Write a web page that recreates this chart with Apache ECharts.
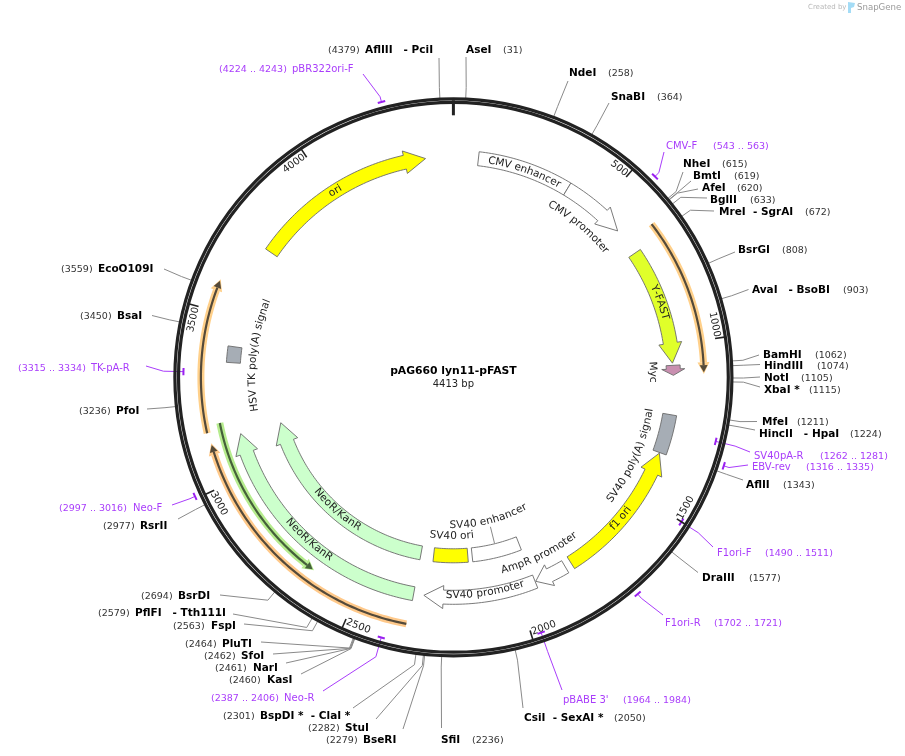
<!DOCTYPE html>
<html>
<head>
<meta charset="utf-8">
<title>pAG660 lyn11-pFAST</title>
<style>
  html, body { margin: 0; padding: 0; background: #fff; }
  #main { width: 905px; height: 756px; }
</style>
<script src="https://cdn.jsdelivr.net/npm/echarts@6/dist/echarts.min.js"></script>
</head>
<body>
<div id="main"></div>
<script>
const plasmidName = "pAG660 lyn11-pFAST";
const plasmidSize = 4413;
const tickValues = [500, 1000, 1500, 2000, 2500, 3000, 3500, 4000];

// features: tail bp, tip bp, bp taken by the arrow head (0 = plain box)
const featureNames = ["CMV enhancer", "CMV promoter", "Y-FAST", "Myc", "SV40 poly(A) signal", "f1 ori", "AmpR promoter", "SV40 promoter", "SV40 enhancer", "SV40 ori", "NeoR/KanR", "NeoR/KanR", "HSV TK poly(A) signal", "ori"];
const featureFrom = [80, 382, 682, 1065, 1223, 1810, 1832, 1939, 1943, 2150, 2334, 2334, 3356, 3731];
const featureTo = [382, 592, 1058, 1097, 1349, 1351, 1937, 2301, 2133, 2284, 3128, 3129, 3407, 4324];
const featureHead = [0, 69, 64, 20, 0, 66, 48, 62, 0, 0, 64, 79, 0, 67];
const featureTrack = [220, 220, 219.5, 220, 219.5, 219.5, 220, 220, 178.5, 178.5, 220, 178.5, 220.5, 220.5];
const featureColors = ["#ffffff", "#ffffff", "#e0ff2a", "#c98fb0", "#a6adb5", "#ffff00", "#ffffff", "#ffffff", "#ffffff", "#ffff00", "#ccffcc", "#ccffcc", "#a6adb5", "#ffff00"];
const featureLabelBp = [234, 487, 855, 1085, 1395, 1595, 1889, 2103, 2035, 2214, 2717, 2712, 3389, 4016];
const featureLabelR = [219.5, 198, 220, 199.5, 199, 219, 199, 218, 148, 159, 218.5, 177.5, 201, 220.5];

// open reading frames, tail to tip
const orfFrom = [641, 3153, 2339, 3174];
const orfTo = [1091, 3587, 3120, 2649];
const orfTrack = [250.5, 252.5, 251, 238];
const orfHalo = ["#ffd08a", "#ffd08a", "#ffc98a", "#b6ec8e"];
const orfLine = ["#544a3a", "#544a3a", "#544a3a", "#45603a"];

// primers, strand 1 sits outside the ring, -1 inside
const primerNames = ["CMV-F", "SV40pA-R", "EBV-rev", "F1ori-F", "F1ori-R", "pBABE 3'", "Neo-R", "Neo-F", "TK-pA-R", "pBR322ori-F"];
const primerFrom = [543, 1262, 1316, 1490, 1702, 1964, 2387, 2997, 3315, 4224];
const primerTo = [563, 1281, 1335, 1511, 1721, 1984, 2406, 3016, 3334, 4243];
const primerStrand = [1, -1, 1, -1, 1, -1, -1, 1, -1, 1];

const enzymeNames = ["AseI", "NdeI", "SnaBI", "NheI", "BmtI", "AfeI", "BglII", "MreI  - SgrAI", "BsrGI", "AvaI   - BsoBI", "BamHI", "HindIII", "NotI", "XbaI *", "MfeI", "HincII   - HpaI", "AflII", "DraIII", "CsiI  - SexAI *", "SfiI", "BseRI", "StuI", "BspDI *  - ClaI *", "KasI", "NarI", "SfoI", "PluTI", "FspI", "PflFI   - Tth111I", "BsrDI", "RsrII", "PfoI", "BsaI", "EcoO109I", "AflIII   - PciI"];
const enzymeSites = [31, 258, 364, 615, 619, 620, 633, 672, 808, 903, 1062, 1074, 1105, 1115, 1211, 1224, 1343, 1577, 2050, 2236, 2279, 2282, 2301, 2460, 2461, 2462, 2464, 2563, 2579, 2694, 2977, 3236, 3450, 3559, 4379];

// text slots around the map: [name x, number x, y, leader end x, leader end y]
const enzymeSlots = [
  [466, 503, 50, 466, 57], [569, 608, 73, 568, 81], [611, 657, 97, 609, 103],
  [683, 722, 164, 683, 172], [693, 734, 176, 691, 181], [702, 737, 188, 698, 189],
  [710, 750, 200, 707, 198], [719, 805, 212, 714, 211], [738, 782, 249.5, 735, 252],
  [752, 843, 289.5, 748.5, 289.5], [763, 815, 354.5, 759, 355], [764, 817, 366, 760, 364.5],
  [764, 801, 378, 760, 377], [764, 809, 390, 760, 387], [762, 797, 422, 757, 421.5],
  [759, 850, 434, 755, 430], [746, 783, 485, 743, 480], [702, 749, 578, 698, 572.5],
  [524, 614, 718, 523, 708], [441, 472, 739.5, 441.5, 728], [363, 326, 739.5, 403, 729],
  [345, 308, 727.5, 376, 719], [260, 223, 715.5, 353, 708], [267, 229, 679.5, 301, 674],
  [253, 215, 667.5, 286, 663], [241, 204, 655.5, 273, 654], [222, 185, 643.5, 261, 642],
  [211, 173, 625.5, 244, 624], [135, 98, 613, 233, 614], [178, 141, 595.5, 220, 595],
  [140, 103, 525.5, 178, 519], [116, 79, 410.5, 147, 409], [117, 80, 315.5, 152, 315.5],
  [98, 61, 268.5, 164, 269], [365, 328, 50, 439, 58]
];
const primerSlots = [
  [666, 713, 146, 664, 152], [754, 820, 455.5, 750, 452], [752, 806, 467, 748, 465],
  [717, 765, 553, 713, 547], [665, 714, 623, 663, 615], [563, 623, 700, 562, 690],
  [284, 211, 697.5, 323, 691], [133, 59, 507.5, 172, 505], [91, 18, 367.5, 146, 366],
  [292, 219, 68.5, 363, 74]
];

const centerX = 453.4;
const centerY = 377.3;
const font = "DejaVu Sans";
const purple = "#a93dfb";
const measure = document.createElement("canvas").getContext("2d");

function pt(api, r, bp) {
  return api.coord([r, bp]);
}

function arc(api, r, from, to) {
  const steps = Math.max(2, Math.ceil(Math.abs(to - from) / 10));
  const out = [];
  for (let i = 0; i <= steps; i++) {
    out.push(pt(api, r, from + ((to - from) * i) / steps));
  }
  return out;
}

function txt(x, y, text, size, color, weight, align, rot) {
  return {
    type: "text",
    x: x,
    y: y,
    rotation: rot || 0,
    style: {
      text: text,
      x: 0,
      y: 0,
      fill: color,
      fontSize: size,
      fontFamily: font,
      fontWeight: weight || "normal",
      align: align || "left",
      verticalAlign: "middle",
    },
  };
}

// text set letter by letter along a circle
function curved(api, text, r, bp, size, color) {
  const flip = bp > plasmidSize / 4 && bp < (plasmidSize * 3) / 4;
  measure.font = size + "px " + font;
  const total = measure.measureText(text).width;
  const children = [];
  let used = 0;
  for (const ch of text) {
    const w = measure.measureText(ch).width;
    const offset = ((used + w / 2 - total / 2) / r) * (plasmidSize / (2 * Math.PI));
    const at = flip ? bp - offset : bp + offset;
    const p = pt(api, r, at);
    const deg = (at / plasmidSize) * 360 - (flip ? 180 : 0);
    children.push(txt(p[0], p[1], ch, size, color, "normal", "center", (-deg * Math.PI) / 180));
    used += w;
  }
  return children;
}

function renderRing(params, api) {
  const c = pt(api, 0, 0);
  const children = [
    { type: "circle", shape: { cx: c[0], cy: c[1], r: 278.5 }, style: { fill: "none", stroke: "#222", lineWidth: 3.2 } },
    { type: "circle", shape: { cx: c[0], cy: c[1], r: 274.9 }, style: { fill: "none", stroke: "#222", lineWidth: 3.2 } },
  ];
  const top = [pt(api, 277, 0), pt(api, 262, 0)];
  children.push({ type: "polyline", shape: { points: top }, style: { stroke: "#222", lineWidth: 3, fill: "none" } });
  return { type: "group", children: children };
}

function renderTick(params, api) {
  const bp = tickValues[params.dataIndex];
  const text = String(bp);
  const p = [pt(api, 274, bp), pt(api, 264.5, bp)];
  const back = text.length === 3 ? 29 : 37;
  const at = bp - back;
  const l = pt(api, 266.5, at);
  const a = (at / plasmidSize) * 360;
  const deg = a > 90 && a < 270 ? a - 180 : a;
  return {
    type: "group",
    children: [
      { type: "polyline", shape: { points: p }, style: { stroke: "#222", lineWidth: 1.6, fill: "none" } },
      txt(l[0], l[1], text, 10, "#222", "normal", "center", (-deg * Math.PI) / 180),
    ],
  };
}

function renderFeature(params, api) {
  const i = params.dataIndex;
  const from = featureFrom[i];
  const to = featureTo[i];
  const r = featureTrack[i];
  const half = 7;
  const dir = to > from ? 1 : -1;
  let points;
  if (featureHead[i] === 0) {
    points = arc(api, r + half, from, to).concat(arc(api, r - half, to, from));
  } else {
    const base = to - dir * featureHead[i];
    points = arc(api, r + half, from, base)
      .concat([pt(api, r + 11.5, base), pt(api, r, to), pt(api, r - 11.5, base)])
      .concat(arc(api, r - half, base, from));
  }
  return {
    type: "polygon",
    shape: { points: points },
    style: { fill: featureColors[i], stroke: "#6b6b6b", lineWidth: 0.9 },
  };
}

function renderFeatureLabel(params, api) {
  const i = params.dataIndex;
  return {
    type: "group",
    children: curved(api, featureNames[i], featureLabelR[i], featureLabelBp[i], 10.5, "#222"),
  };
}

// thin leader from the SV40 enhancer box to its label
function renderEnhancerLeader(params, api) {
  return {
    type: "polyline",
    shape: { points: [pt(api, 154, 2036), pt(api, 171, 2036)] },
    style: { stroke: "#8a8a8a", lineWidth: 1, fill: "none" },
  };
}

function renderOrf(params, api) {
  const i = params.dataIndex;
  const from = orfFrom[i];
  const to = orfTo[i];
  const r = orfTrack[i];
  const dir = to > from ? 1 : -1;
  const shaftEnd = to - dir * 30;
  const neck = to - dir * 22;
  return {
    type: "group",
    children: [
      { type: "polyline", shape: { points: arc(api, r, from, shaftEnd) }, style: { stroke: orfHalo[i], lineWidth: 7, fill: "none" } },
      { type: "polygon", shape: { points: [pt(api, r + 6, shaftEnd), pt(api, r, to + dir * 3), pt(api, r - 6, shaftEnd)] }, style: { fill: orfHalo[i] } },
      { type: "polyline", shape: { points: arc(api, r, from, neck) }, style: { stroke: orfLine[i], lineWidth: 2.2, fill: "none" } },
      { type: "polygon", shape: { points: [pt(api, r + 4, neck), pt(api, r, to - dir * 2), pt(api, r - 4, neck)] }, style: { fill: orfLine[i] } },
    ],
  };
}

function renderEnzyme(params, api) {
  const i = params.dataIndex;
  const bp = enzymeSites[i];
  const s = enzymeSlots[i];
  return {
    type: "group",
    children: [
      {
        type: "polyline",
        shape: { points: [pt(api, 279, bp), pt(api, 290, bp), [s[3], s[4]]] },
        style: { stroke: "#8a8a8a", lineWidth: 1, fill: "none" },
      },
      txt(s[0], s[2] + 0.5, enzymeNames[i], 10.5, "#000", "bold"),
      txt(s[1], s[2] + 1, "(" + bp + ")", 9.5, "#333"),
    ],
  };
}

function renderPrimer(params, api) {
  const i = params.dataIndex;
  const s = primerSlots[i];
  const mid = (primerFrom[i] + primerTo[i]) / 2;
  const r = primerStrand[i] === 1 ? 284.5 : 270;
  return {
    type: "group",
    children: [
      {
        type: "polyline",
        shape: { points: [pt(api, r, mid), pt(api, 290, mid), [s[3], s[4]]] },
        style: { stroke: purple, lineWidth: 1, fill: "none" },
      },
      {
        type: "polyline",
        shape: { points: arc(api, r, primerFrom[i], primerTo[i]) },
        style: { stroke: "#9a20f0", lineWidth: 2, fill: "none" },
      },
      txt(s[0], s[2] + 0.5, primerNames[i], 10, purple),
      txt(s[1], s[2] + 1, "(" + primerFrom[i] + " .. " + primerTo[i] + ")", 9.5, purple),
    ],
  };
}

function customSeries(render, count, z) {
  const data = [];
  for (let i = 0; i < count; i++) data.push([0, 0]);
  return {
    type: "custom",
    coordinateSystem: "polar",
    renderItem: render,
    data: data,
    silent: true,
    clip: false,
    animation: false,
    z: z,
  };
}

const chart = echarts.init(document.getElementById("main"), null, { renderer: "canvas" });

chart.setOption({
  animation: false,
  backgroundColor: "#fff",
  polar: { center: [centerX, centerY], radius: 300 },
  radiusAxis: {
    min: 0,
    max: 300,
    axisLine: { show: false },
    axisTick: { show: false },
    axisLabel: { show: false },
    splitLine: { show: false },
  },
  angleAxis: {
    type: "value",
    min: 0,
    max: plasmidSize,
    startAngle: 90,
    clockwise: true,
    axisLine: { show: false },
    axisTick: { show: false },
    axisLabel: { show: false },
    splitLine: { show: false },
  },
  graphic: [
    { type: "text", x: centerX, y: 371.5, style: { text: plasmidName, fontFamily: font, fontWeight: "bold", fontSize: 10.8, fill: "#000", align: "center", verticalAlign: "middle" } },
    { type: "text", x: centerX, y: 384.5, style: { text: plasmidSize + " bp", fontFamily: font, fontSize: 10, fill: "#222", align: "center", verticalAlign: "middle" } },
    { type: "text", x: 808, y: 7.5, style: { text: "Created by", fontFamily: font, fontSize: 7, fill: "#b9b9b9", verticalAlign: "middle" } },
    { type: "polygon", shape: { points: [[848, 2], [855, 3], [854, 7], [851, 8], [851, 13], [848, 13]] }, style: { fill: "#a4dcf6" } },
    { type: "text", x: 857, y: 7.5, style: { text: "SnapGene", fontFamily: font, fontSize: 8.6, fill: "#9a9a9a", verticalAlign: "middle" } },
  ],
  series: [
    customSeries(renderEnzyme, enzymeNames.length, 1),
    customSeries(renderPrimer, primerNames.length, 2),
    customSeries(renderRing, 1, 3),
    customSeries(renderTick, tickValues.length, 4),
    customSeries(renderOrf, orfFrom.length, 5),
    customSeries(renderEnhancerLeader, 1, 5),
    customSeries(renderFeature, featureNames.length, 6),
    customSeries(renderFeatureLabel, featureNames.length, 7),
  ],
});
</script>
</body>
</html>
